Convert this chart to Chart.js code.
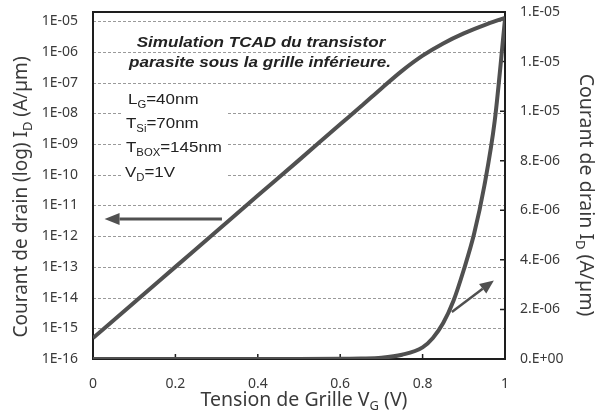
<!DOCTYPE html>
<html>
<head>
<meta charset="utf-8">
<title>Simulation TCAD</title>
<script src="https://cdn.jsdelivr.net/npm/chart.js@4.4.1/dist/chart.umd.min.js"></script>
<style>
  html, body { margin: 0; padding: 0; background: #fff; }
  #wrap { width: 602px; height: 412px; position: relative; }
</style>
</head>
<body>
<div id="wrap"><canvas id="chart" width="602" height="412"></canvas></div>
<script>
'use strict';

// ─── Data ────────────────────────────────────────────────────────────────────
// Gate voltage sweep (V) and drain current (A/µm), log-scale curve
const vgLog = [0, 0.1, 0.2, 0.3, 0.4, 0.5, 0.6, 0.65, 0.7, 0.75, 0.8, 0.85, 0.9, 0.95, 1.0];
const idLog = [4.8e-16, 6.9e-15, 1.0e-13, 1.45e-12, 2.1e-11, 3.0e-10, 4.4e-9, 1.66e-8,
               6.5e-8, 2.43e-7, 7.6e-7, 1.9e-6, 4.03e-6, 7.5e-6, 1.29e-5];

// Same sweep, linear-scale curve (right axis)
const vgLin = [0, 0.5, 0.6, 0.65, 0.7, 0.75, 0.8, 0.825, 0.85, 0.875, 0.9, 0.925, 0.95, 0.975, 1.0];
const idLin = [0, 0, 0.01e-6, 0.02e-6, 0.05e-6, 0.17e-6, 0.47e-6, 0.85e-6, 1.45e-6,
               2.35e-6, 3.6e-6, 5.05e-6, 7.0e-6, 9.6e-6, 13.7e-6];

// Axis ticks
const xTickValues     = [0, 0.2, 0.4, 0.6, 0.8, 1];
const xTickLabels     = ['0', '0.2', '0.4', '0.6', '0.8', '1'];
const leftTickLabels  = ['1E-05', '1E-06', '1E-07', '1E-08', '1E-09', '1E-10',
                         '1E-11', '1E-12', '1E-13', '1E-14', '1E-15', '1E-16'];
const rightTickValues = [0, 2e-6, 4e-6, 6e-6, 8e-6, 1.0e-5, 1.2e-5, 1.4e-5];
const rightTickLabels = ['0.E+00', '2.E-06', '4.E-06', '6.E-06', '8.E-06', '1.E-05', '1.E-05', '1.E-05'];

// Arrows pointing each curve to its axis: [x0, y0, x1, y1] in data units
const arrowLog = [0.313, 3.6e-12, 0.028, 3.6e-12];
const arrowLin = [0.871, 1.9e-6, 0.973, 3.17e-6];

// ─── Styles ──────────────────────────────────────────────────────────────────
const CURVE = '#505050';
const TEXT  = '#3a3a3a';
const UI_FONT = '"Noto Sans", "Open Sans", sans-serif';
const NOTE_FONT = '"Liberation Sans", Arial, sans-serif';

// ─── Text helper: runs of text with optional subscript, optional widening ───
function drawRich(ctx, parts, x, y, size, family, align, weight, sx) {
  const w = weight || '';
  const subSize = Math.round(size * 0.68);
  let total = 0;
  for (const p of parts) {
    ctx.font = `${w} ${p.sub ? subSize : size}px ${family}`;
    p.w = ctx.measureText(p.t).width;
    total += p.w;
  }
  ctx.save();
  ctx.translate(x, y);
  ctx.scale(sx || 1, 1);
  let cx = align === 'center' ? -total / 2 : 0;
  ctx.textAlign = 'left';
  ctx.textBaseline = 'middle';
  for (const p of parts) {
    ctx.font = `${w} ${p.sub ? subSize : size}px ${family}`;
    ctx.fillText(p.t, cx, p.sub ? size * 0.32 : 0);
    cx += p.w;
  }
  ctx.restore();
}

function drawArrow(ctx, x0, y0, x1, y1, width, headLen, headHalf) {
  const ang = Math.atan2(y1 - y0, x1 - x0);
  const bx = x1 - headLen * Math.cos(ang);
  const by = y1 - headLen * Math.sin(ang);
  ctx.strokeStyle = CURVE;
  ctx.fillStyle = CURVE;
  ctx.lineWidth = width;
  ctx.beginPath();
  ctx.moveTo(x0, y0);
  ctx.lineTo(bx, by);
  ctx.stroke();
  ctx.beginPath();
  ctx.moveTo(x1, y1);
  ctx.lineTo(bx + headHalf * Math.sin(ang), by - headHalf * Math.cos(ang));
  ctx.lineTo(bx - headHalf * Math.sin(ang), by + headHalf * Math.cos(ang));
  ctx.closePath();
  ctx.fill();
}

// Keep the plot area fixed: tick labels must not push it inwards
function noVerticalPadding(s) { s.paddingTop = 0; s.paddingBottom = 0; }

// ─── Dashed grid, plot frame, inward ticks and axis titles ───────────────────
const framePlugin = {
  id: 'frame',
  beforeDatasetsDraw(chart) {
    const { ctx, chartArea: a, scales } = chart;
    ctx.save();

    // dashed decade grid lines of the log axis
    ctx.strokeStyle = '#9a9a9a';
    ctx.lineWidth = 1;
    ctx.setLineDash([3, 2]);
    ctx.beginPath();
    for (const t of leftTickLabels.slice(0, -1)) {
      const py = Math.round(scales.y.getPixelForValue(Number(t))) + 0.5;
      ctx.moveTo(a.left, py);
      ctx.lineTo(a.right, py);
    }
    ctx.stroke();
    ctx.setLineDash([]);

    ctx.strokeStyle = '#1e1e1e';
    ctx.lineWidth = 2;
    ctx.strokeRect(a.left, a.top, a.right - a.left, a.bottom - a.top);

    // short tick marks pointing into the plot
    ctx.lineWidth = 1.5;
    ctx.beginPath();
    for (const v of xTickValues.slice(1, -1)) {
      const px = scales.x.getPixelForValue(v);
      ctx.moveTo(px, a.bottom);
      ctx.lineTo(px, a.bottom - 5);
    }
    for (const v of rightTickValues.slice(1, -1)) {
      const py = scales.y2.getPixelForValue(v);
      ctx.moveTo(a.right, py);
      ctx.lineTo(a.right - 5, py);
    }
    ctx.stroke();
    ctx.restore();
  },
  afterDraw(chart) {
    const { ctx, chartArea: a, scales } = chart;
    ctx.save();
    ctx.fillStyle = TEXT;

    // axis titles
    drawRich(ctx, [{ t: 'Tension de Grille V' }, { t: 'G', sub: true }, { t: ' (V)' }],
      (a.left + a.right) / 2 + 5, 400, 19.5, UI_FONT, 'center');

    ctx.save();
    ctx.translate(22, 197);
    ctx.rotate(-Math.PI / 2);
    drawRich(ctx, [{ t: 'Courant de drain (log) I' }, { t: 'D', sub: true }, { t: ' (A/µm)' }],
      0, 0, 19, UI_FONT, 'center');
    ctx.restore();

    ctx.save();
    ctx.translate(586, 195);
    ctx.rotate(Math.PI / 2);
    drawRich(ctx, [{ t: 'Courant de drain I' }, { t: 'D', sub: true }, { t: ' (A/µm)' }],
      0, 0, 19.5, UI_FONT, 'center');
    ctx.restore();

    // arrows
    const xs = scales.x, yl = scales.y, yr = scales.y2;
    drawArrow(ctx,
      xs.getPixelForValue(arrowLog[0]), yl.getPixelForValue(arrowLog[1]),
      xs.getPixelForValue(arrowLog[2]), yl.getPixelForValue(arrowLog[3]), 3, 15, 6);
    drawArrow(ctx,
      xs.getPixelForValue(arrowLin[0]), yr.getPixelForValue(arrowLin[1]),
      xs.getPixelForValue(arrowLin[2]), yr.getPixelForValue(arrowLin[3]), 2.5, 14, 6);

    // simulation note
    ctx.fillStyle = '#222';
    drawRich(ctx, [{ t: 'Simulation TCAD du transistor' }], a.left + 168, 43, 14, NOTE_FONT, 'center', 'bold italic', 1.22);
    drawRich(ctx, [{ t: 'parasite sous la grille inférieure.' }], a.left + 167, 63, 14, NOTE_FONT, 'center', 'bold italic', 1.22);

    // device parameters on a white box
    ctx.fillStyle = '#fff';
    ctx.fillRect(a.left + 30, 90, 105, 96);
    ctx.fillStyle = '#222';
    drawRich(ctx, [{ t: 'L' }, { t: 'G', sub: true }, { t: '=40nm' }], a.left + 35, 100, 15, NOTE_FONT, 'left', '', 1.13);
    drawRich(ctx, [{ t: 'T' }, { t: 'Si', sub: true }, { t: '=70nm' }], a.left + 33, 124, 15, NOTE_FONT, 'left', '', 1.13);
    drawRich(ctx, [{ t: 'T' }, { t: 'BOX', sub: true }, { t: '=145nm' }], a.left + 33, 148, 15, NOTE_FONT, 'left', '', 1.13);
    drawRich(ctx, [{ t: 'V' }, { t: 'D', sub: true }, { t: '=1V' }], a.left + 32, 173, 15, NOTE_FONT, 'left', '', 1.13);
    ctx.restore();
  },
};

// ─── Chart ───────────────────────────────────────────────────────────────────
const ctx = document.getElementById('chart').getContext('2d');
new Chart(ctx, {
  type: 'line',
  data: {
    datasets: [
      {
        data: vgLog.map((v, i) => ({ x: v, y: idLog[i] })),
        yAxisID: 'y',
        borderColor: CURVE,
        borderWidth: 4,
        pointRadius: 0,
        fill: false,
        cubicInterpolationMode: 'monotone',
      },
      {
        data: vgLin.map((v, i) => ({ x: v, y: idLin[i] })),
        yAxisID: 'y2',
        borderColor: CURVE,
        borderWidth: 4,
        pointRadius: 0,
        fill: false,
        cubicInterpolationMode: 'monotone',
      },
    ],
  },
  options: {
    responsive: false,
    animation: false,
    layout: { padding: { top: 12, left: 0, right: 0, bottom: 0 } },
    plugins: {
      legend:  { display: false },
      tooltip: { enabled: false },
    },
    scales: {
      x: {
        type: 'linear',
        min: 0,
        max: 1,
        afterBuildTicks: (s) => { s.ticks = xTickValues.map((value) => ({ value })); },
        afterFit: (s) => { s.height = 53; s.paddingLeft = 0; s.paddingRight = 0; },
        grid:   { display: false, drawTicks: false },
        border: { display: false },
        ticks: {
          padding: 17,
          color: TEXT,
          font: { family: UI_FONT, size: 14 },
          callback: (v) => xTickLabels[xTickValues.indexOf(v)],
        },
      },
      y: {
        type: 'logarithmic',
        position: 'left',
        min: 1e-16,
        max: 2e-5,
        afterBuildTicks: (s) => { s.ticks = leftTickLabels.map((t) => ({ value: Number(t) })); },
        afterFit: (s) => { s.width = 93; noVerticalPadding(s); },
        grid:   { display: false, drawTicks: false },
        border: { display: false },
        ticks: {
          padding: 15,
          color: TEXT,
          font: { family: UI_FONT, size: 14 },
          autoSkip: false,
          callback: (v) => {
            const i = leftTickLabels.findIndex((t) => Math.abs(Math.log10(Number(t)) - Math.log10(v)) < 1e-6);
            return i >= 0 ? leftTickLabels[i] : '';
          },
        },
      },
      y2: {
        type: 'linear',
        position: 'right',
        min: 0,
        max: 1.4e-5,
        afterBuildTicks: (s) => { s.ticks = rightTickValues.map((value) => ({ value })); },
        afterFit: (s) => { s.width = 97; noVerticalPadding(s); },
        grid:   { display: false, drawTicks: false },
        border: { display: false },
        ticks: {
          padding: 15,
          color: TEXT,
          font: { family: UI_FONT, size: 14 },
          autoSkip: false,
          callback: (v) => {
            const i = rightTickValues.findIndex((r) => Math.abs(r - v) < 1e-9);
            return i >= 0 ? rightTickLabels[i] : '';
          },
        },
      },
    },
  },
  plugins: [framePlugin],
});
</script>
</body>
</html>
